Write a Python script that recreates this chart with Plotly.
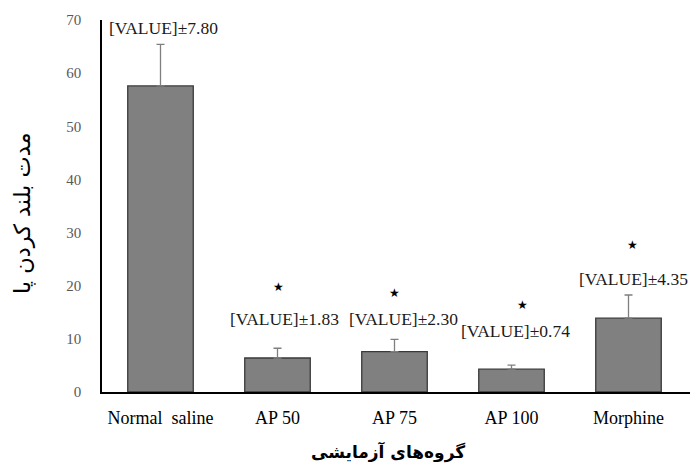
import plotly.graph_objects as go

# Paw-raising duration per treatment group (mean ± SEM)
groups = ["Normal  saline", "AP 50", "AP 75", "AP 100", "Morphine"]
means = [57.6, 6.4, 7.6, 4.3, 13.9]
sem = [7.80, 1.83, 2.30, 0.74, 4.35]
significant = [False, True, True, True, True]

y_ticks = [0, 10, 20, 30, 40, 50, 60, 70]

# Annotation placement (data units above the bars, pixel nudges)
label_y = [68.5, 13.7, 13.7, 11.5, 21.3]
label_dx = [3, 7, 9, 4, 5]
star_y = [None, 19.8, 18.6, 16.4, 27.7]
star_dx = [0, 1, 0, 11, 4]

serif = "Liberation Serif, Times New Roman, serif"
persian = "DejaVu Sans, Noto Sans, sans-serif"

fig = go.Figure()
fig.add_trace(go.Bar(
    x=groups,
    y=means,
    width=0.56,
    marker=dict(color="#808080", line=dict(color="#3a3a3a", width=1.3)),
    error_y=dict(type="data", array=sem, arrayminus=[0] * len(sem),
                 symmetric=False, color="#7f7f7f", thickness=1.3, width=4),
    hoverinfo="skip",
))

annotations = []
for g, s, ly, dx in zip(groups, sem, label_y, label_dx):
    annotations.append(dict(
        x=g, y=ly, xref="x", yref="y", xshift=dx,
        text=f"[VALUE]±{s:.2f}", showarrow=False,
        font=dict(family=serif, size=17.5, color="#1a1a1a"),
    ))
for g, sig, sy, dx in zip(groups, significant, star_y, star_dx):
    if sig:
        annotations.append(dict(
            x=g, y=sy, xref="x", yref="y", xshift=dx,
            text="★", showarrow=False,
            font=dict(family=persian, size=12, color="#000000"),
        ))

# Axis titles
annotations.append(dict(
    x=0.446, y=-0.16, xref="paper", yref="paper", xanchor="center",
    xshift=24, yanchor="middle",
    text="<b>گروه‌های آزمایشی</b>", showarrow=False,
    font=dict(family=persian, size=17, color="#000000"),
))
annotations.append(dict(
    x=-0.135, y=0.48, xref="paper", yref="paper",
    xanchor="center", yanchor="middle",
    text="مدت بلند کردن پا", textangle=-90, showarrow=False,
    font=dict(family=persian, size=22.5, color="#000000"),
))

fig.update_layout(
    width=697, height=464,
    margin=dict(l=102, r=7, t=20, b=72),
    paper_bgcolor="white", plot_bgcolor="white",
    showlegend=False,
    bargap=0.44,
    annotations=annotations,
)
fig.update_xaxes(
    showline=True, linecolor="#000000", linewidth=2,
    showgrid=False, ticks="", ticklabelstandoff=8,
    tickfont=dict(family=serif, size=18, color="#000000"),
)
fig.update_yaxes(
    range=[0, 70], tickvals=y_ticks,
    showline=True, linecolor="#000000", linewidth=1.5,
    showgrid=False, zeroline=False, ticks="", ticklabelstandoff=16,
    tickfont=dict(family=serif, size=15, color="#595959"),
)

fig.write_html("out.html")
